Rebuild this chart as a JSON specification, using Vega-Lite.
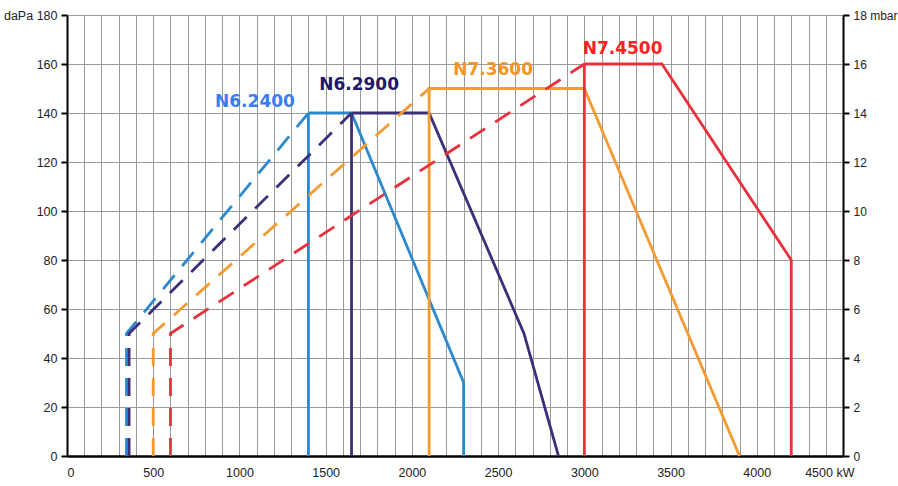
{
  "$schema": "https://vega.github.io/schema/vega-lite/v6.json",
  "width": 776,
  "height": 441,
  "autosize": {"type": "none"},
  "padding": {"left": 67, "top": 15, "right": 55, "bottom": 30},
  "background": "white",
  "config": {
    "view": {"stroke": null},
    "axis": {"labelFont": "Liberation Sans", "labelFontSize": 12.5, "labelColor": "#222", "titleFont": "Liberation Sans"}
  },
  "datasets": {
    "lines": [
      {"series": "N6.2400", "style": "dashed", "i": 1, "kw": 345, "p": 0},
      {"series": "N6.2400", "style": "dashed", "i": 2, "kw": 345, "p": 50},
      {"series": "N6.2400", "style": "dashed", "i": 3, "kw": 1400, "p": 140},
      {"series": "N6.2400", "style": "solid", "i": 1, "kw": 1400, "p": 0},
      {"series": "N6.2400", "style": "solid", "i": 2, "kw": 1400, "p": 140},
      {"series": "N6.2400", "style": "solid", "i": 3, "kw": 1650, "p": 140},
      {"series": "N6.2400", "style": "solid", "i": 4, "kw": 2300, "p": 30},
      {"series": "N6.2400", "style": "solid", "i": 5, "kw": 2300, "p": 0},
      {"series": "N6.2900", "style": "dashed", "i": 1, "kw": 360, "p": 0},
      {"series": "N6.2900", "style": "dashed", "i": 2, "kw": 360, "p": 50},
      {"series": "N6.2900", "style": "dashed", "i": 3, "kw": 1650, "p": 140},
      {"series": "N6.2900", "style": "solid", "i": 1, "kw": 1650, "p": 0},
      {"series": "N6.2900", "style": "solid", "i": 2, "kw": 1650, "p": 140},
      {"series": "N6.2900", "style": "solid", "i": 3, "kw": 2100, "p": 140},
      {"series": "N6.2900", "style": "solid", "i": 4, "kw": 2650, "p": 50},
      {"series": "N6.2900", "style": "solid", "i": 5, "kw": 2850, "p": 0},
      {"series": "N7.3600", "style": "dashed", "i": 1, "kw": 500, "p": 0},
      {"series": "N7.3600", "style": "dashed", "i": 2, "kw": 500, "p": 50},
      {"series": "N7.3600", "style": "dashed", "i": 3, "kw": 2100, "p": 150},
      {"series": "N7.3600", "style": "solid", "i": 1, "kw": 2100, "p": 0},
      {"series": "N7.3600", "style": "solid", "i": 2, "kw": 2100, "p": 150},
      {"series": "N7.3600", "style": "solid", "i": 3, "kw": 3000, "p": 150},
      {"series": "N7.3600", "style": "solid", "i": 4, "kw": 3900, "p": 0},
      {"series": "N7.4500", "style": "dashed", "i": 1, "kw": 600, "p": 0},
      {"series": "N7.4500", "style": "dashed", "i": 2, "kw": 600, "p": 50},
      {"series": "N7.4500", "style": "dashed", "i": 3, "kw": 3000, "p": 160},
      {"series": "N7.4500", "style": "solid", "i": 1, "kw": 3000, "p": 0},
      {"series": "N7.4500", "style": "solid", "i": 2, "kw": 3000, "p": 160},
      {"series": "N7.4500", "style": "solid", "i": 3, "kw": 3450, "p": 160},
      {"series": "N7.4500", "style": "solid", "i": 4, "kw": 4200, "p": 80},
      {"series": "N7.4500", "style": "solid", "i": 5, "kw": 4200, "p": 0}
    ],
    "labels": [
      {"name": "N6.2400", "kw": 1090, "p": 144.6},
      {"name": "N6.2900", "kw": 1694, "p": 151.4},
      {"name": "N7.3600", "kw": 2471, "p": 157.5},
      {"name": "N7.4500", "kw": 3222, "p": 166}
    ]
  },
  "encoding": {
    "x": {
      "field": "kw", "type": "quantitative",
      "scale": {"domain": [0, 4500], "nice": false, "zero": true},
      "axis": {
        "title": null,
        "format": "d",
        "values": [0,100,200,300,400,500,600,700,800,900,1000,1100,1200,1300,1400,1500,1600,1700,1800,1900,2000,2100,2200,2300,2400,2500,2600,2700,2800,2900,3000,3100,3200,3300,3400,3500,3600,3700,3800,3900,4000,4100,4200,4300,4400,4500],
        "labelExpr": "datum.value % 500 == 0 ? (datum.value == 4500 ? '4500 kW' : datum.label) : ''",
        "labelOffset": {"expr": "datum.value == 4500 ? 11 : 0"},
        "labelOverlap": false,
        "labelPadding": 10,
        "ticks": false,
        "grid": true, "gridColor": "#9a9a9a", "gridWidth": 1, "gridOpacity": 1,
        "domainColor": "#000", "domainWidth": 2.5
      }
    }
  },
  "layer": [
    {
      "data": {"name": "lines"},
      "mark": {"type": "line", "strokeWidth": 2.8, "strokeCap": "butt", "strokeJoin": "miter"},
      "encoding": {
        "y": {
          "field": "p", "type": "quantitative",
          "scale": {"domain": [0, 180], "nice": false},
          "axis": {
            "title": null,
            "values": [0,20,40,60,80,100,120,140,160,180],
            "labelExpr": "datum.value == 180 ? 'daPa 180' : datum.label",
            "grid": true, "gridColor": "#9a9a9a", "gridWidth": 1, "gridOpacity": 1,
            "domainColor": "#000", "domainWidth": 2,
            "tickColor": "#000", "tickWidth": 2, "tickSize": 6, "labelPadding": 4
          }
        },
        "color": {
          "field": "series", "type": "nominal",
          "scale": {"domain": ["N6.2400", "N6.2900", "N7.3600", "N7.4500"], "range": ["#2a89cf", "#3c2e78", "#f39a31", "#e8313b"]},
          "legend": null
        },
        "strokeDash": {
          "field": "style", "type": "nominal",
          "scale": {"domain": ["dashed", "solid"], "range": [[18, 12], [1, 0]]},
          "legend": null
        },
        "detail": {"field": "style"},
        "order": {"field": "i", "type": "quantitative"}
      }
    },
    {
      "data": {"name": "labels"},
      "mark": {"type": "text", "font": "DejaVu Sans", "fontWeight": "bold", "fontSize": 17, "align": "center", "baseline": "middle"},
      "encoding": {
        "y": {
          "field": "p", "type": "quantitative",
          "scale": {"domain": [0, 180], "nice": false},
          "axis": {
            "orient": "right",
            "title": null,
            "values": [0,20,40,60,80,100,120,140,160,180],
            "labelExpr": "datum.value == 180 ? '18 mbar' : format(datum.value / 10, 'd')",
            "labelFontSize": 12,
            "grid": false,
            "domainColor": "#000", "domainWidth": 2,
            "tickColor": "#000", "tickWidth": 2, "tickSize": 6, "labelPadding": 4
          }
        },
        "text": {"field": "name"},
        "color": {
          "field": "name", "type": "nominal",
          "scale": {"domain": ["N6.2400", "N6.2900", "N7.3600", "N7.4500"], "range": ["#3a7cf2", "#1c1a6a", "#f7941d", "#ff1f1f"]},
          "legend": null
        }
      }
    }
  ],
  "resolve": {"scale": {"y": "independent", "color": "independent"}}
}
